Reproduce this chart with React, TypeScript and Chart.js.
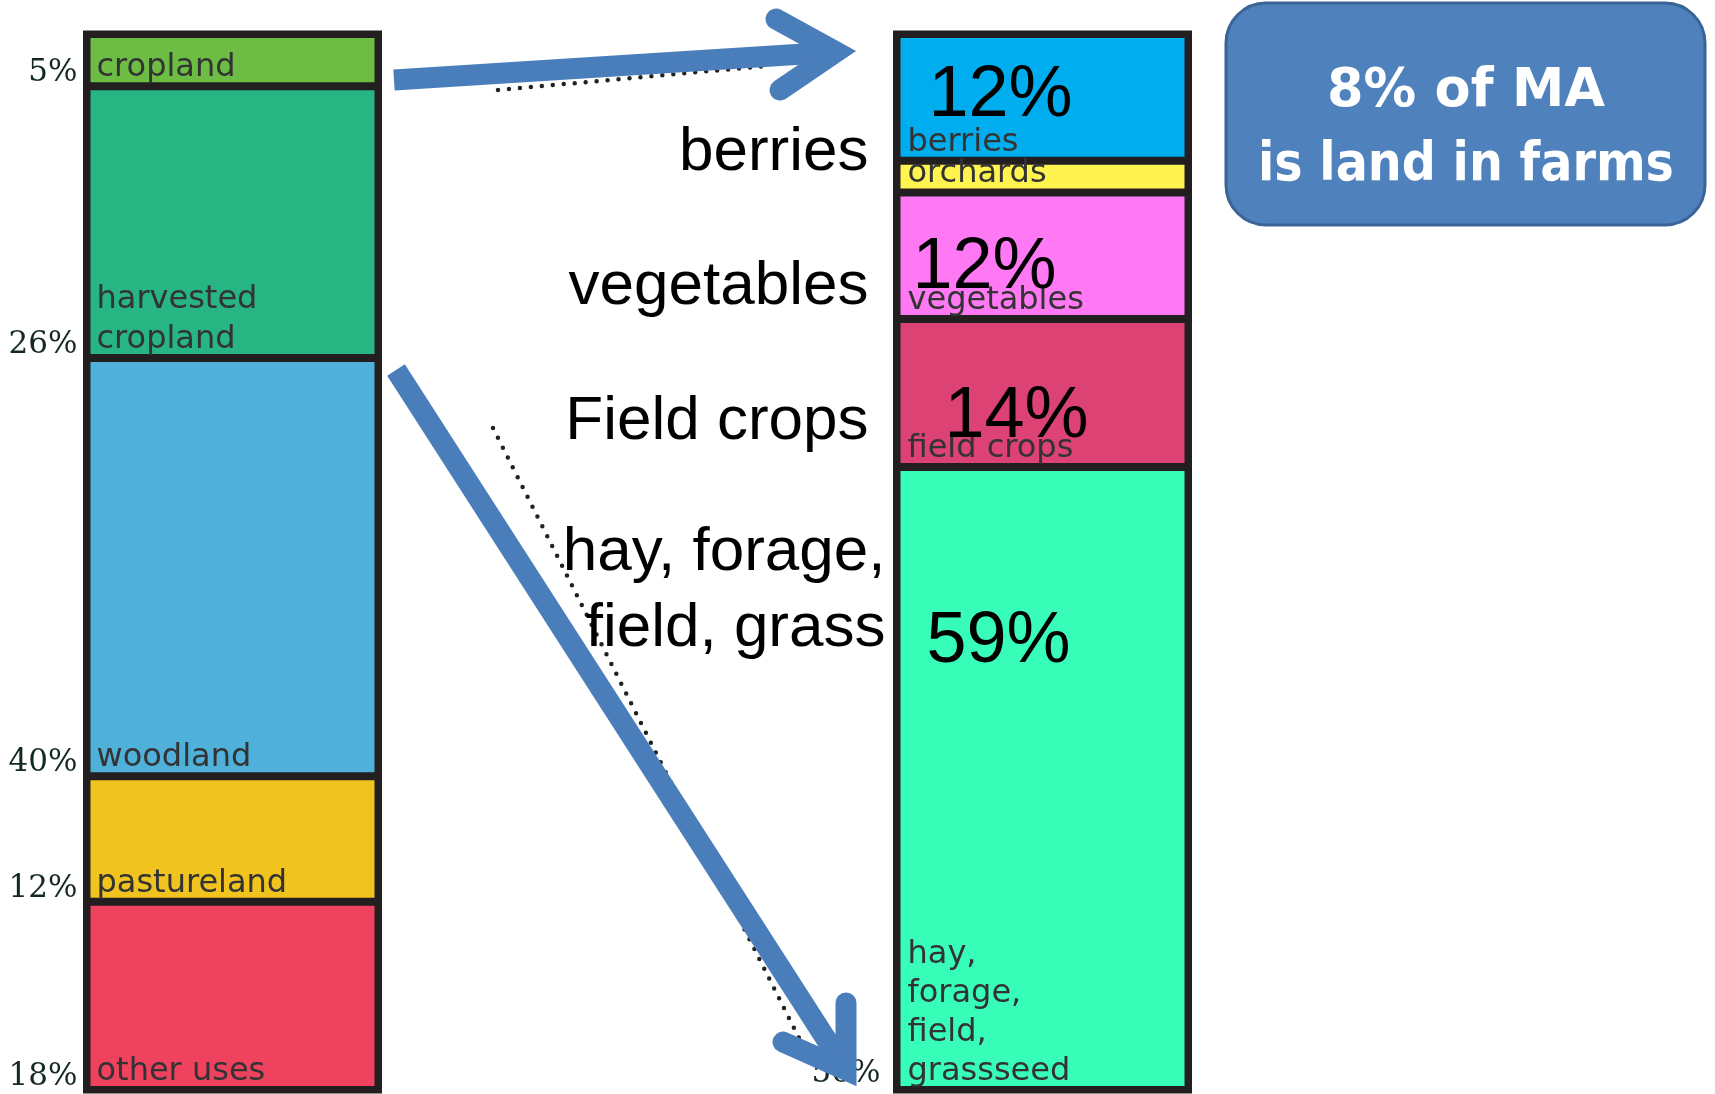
import React, { useEffect, useRef } from 'react';
import { Chart, registerables } from 'chart.js';

Chart.register(...registerables);

// ---------- data ----------
const barCategories = ['Land use', '', 'Land in farms'];

const landUseLabels = [['cropland'], ['harvested', 'cropland'], ['woodland'], ['pastureland'], ['other uses']];
const landUseShares = [5, 26, 40, 12, 18];
const landUseTickLabels = ['5%', '26%', '40%', '12%', '18%'];
const landUseColors = ['#6dbd45', '#27b584', '#4fb0da', '#f0c31e', '#ee425e'];

const farmLabels = [['berries'], ['orchards'], ['vegetables'], ['field crops'], ['hay,', 'forage,', 'field,', 'grassseed']];
const farmShares = [12, 3, 12, 14, 59];
const farmBigLabels = ['12%', '', '12%', '14%', '59%'];
const farmColors = ['#00aeef', '#fff44f', '#ff78f4', '#dc4274', '#38fdb9'];
const farmCallouts = [['berries'], [], ['vegetables'], ['Field crops'], ['hay, forage,', 'field, grass']];
const farmTickLabel = '56%';
const headline = ['8% of MA', 'is land in farms'];

// ---------- styles ----------
const BORDER = '#231f20';
const ARROW = '#4a7ebb';
const SEG_FONT = '32px "DejaVu Sans"';
const SEG_COLOR = '#333';
const TICK_FONT = '31px "DejaVu Serif"';
const TICK_COLOR = '#142a20';
const BIG_FONT = '72px "Liberation Sans"';
const CALLOUT_FONT = '62px "Liberation Sans"';
const HEAD_FONT = 'bold 54px "DejaVu Sans"';
const HEAD_WIDTHS = [278, 416];
// offsets for big % labels inside the right bar: [dx from left, baseline from top]
const bigLabelPos = [[32, 82], [0, 0], [16, 96], [48, 118], [30, 195]];
// callout baseline offsets from segment top
const calloutTop = [136, 0, 112, 120, 103];

function segBox(el: any) {
  const p = el.getProps(['x', 'y', 'base', 'width'], true);
  return {
    left: p.x - p.width / 2,
    right: p.x + p.width / 2,
    top: Math.min(p.y, p.base),
    bottom: Math.max(p.y, p.base),
  };
}

function union(boxes: any[]) {
  const l = Math.min(...boxes.map((b) => b.left));
  const r = Math.max(...boxes.map((b) => b.right));
  const t = Math.min(...boxes.map((b) => b.top));
  const bt = Math.max(...boxes.map((b) => b.bottom));
  return { l, r, t, bt };
}

function getBoxes(chart: any) {
  const nL = landUseShares.length;
  const lBoxes = landUseShares.map((_, i) => segBox(chart.getDatasetMeta(i).data[0]));
  const rBoxes = farmShares.map((_, i) => segBox(chart.getDatasetMeta(nL + i).data[2]));
  return { lBoxes, rBoxes };
}

function drawArrow(ctx: CanvasRenderingContext2D, s: number[], t: number[], a: number[], b: number[], w: number) {
  ctx.save();
  ctx.strokeStyle = ARROW;
  ctx.lineWidth = w;
  const dx = t[0] - s[0], dy = t[1] - s[1];
  const len = Math.hypot(dx, dy);
  ctx.lineCap = 'butt';
  ctx.beginPath();
  ctx.moveTo(s[0], s[1]);
  ctx.lineTo(t[0] - (dx / len) * w * 0.6, t[1] - (dy / len) * w * 0.6);
  ctx.stroke();
  ctx.lineCap = 'round';
  ctx.lineJoin = 'miter';
  ctx.miterLimit = 10;
  ctx.beginPath();
  ctx.moveTo(a[0], a[1]);
  ctx.lineTo(t[0], t[1]);
  ctx.lineTo(b[0], b[1]);
  ctx.stroke();
  ctx.restore();
}

function drawDots(ctx: CanvasRenderingContext2D, s: number[], e: number[]) {
  ctx.save();
  ctx.strokeStyle = '#222';
  ctx.lineWidth = 4.5;
  ctx.lineCap = 'round';
  ctx.setLineDash([0, 11]);
  ctx.beginPath();
  ctx.moveTo(s[0], s[1]);
  ctx.lineTo(e[0], e[1]);
  ctx.stroke();
  ctx.restore();
}

const decorPlugin = {
  id: 'decor',
  beforeDatasetsDraw(chart: any) {
    const ctx: CanvasRenderingContext2D = chart.ctx;
    const { lBoxes, rBoxes } = getBoxes(chart);
    ctx.save();
    ctx.fillStyle = BORDER;
    [lBoxes, rBoxes].forEach((bx) => {
      const u = union(bx);
      ctx.fillRect(u.l, u.t, u.r - u.l, u.bt - u.t);
    });
    ctx.restore();
  },
  afterDatasetsDraw(chart: any) {
    const ctx: CanvasRenderingContext2D = chart.ctx;
    const { lBoxes, rBoxes } = getBoxes(chart);

    ctx.save();
    ctx.strokeStyle = BORDER;
    ctx.lineWidth = 7;
    [lBoxes, rBoxes].forEach((bx) => {
      const u = union(bx);
      ctx.strokeRect(u.l, u.t, u.r - u.l, u.bt - u.t);
    });
    ctx.restore();

    ctx.save();
    ctx.textBaseline = 'alphabetic';
    // left bar segment labels & ticks
    lBoxes.forEach((b, i) => {
      ctx.font = SEG_FONT;
      ctx.fillStyle = SEG_COLOR;
      ctx.textAlign = 'left';
      const lines = landUseLabels[i];
      lines.forEach((ln, k) => {
        ctx.fillText(ln, b.left + 10, b.bottom - 10 - (lines.length - 1 - k) * 40);
      });
      ctx.font = TICK_FONT;
      ctx.fillStyle = TICK_COLOR;
      ctx.textAlign = 'right';
      ctx.fillText(landUseTickLabels[i], b.left - 9, b.bottom - 5);
    });

    // right bar segment labels
    rBoxes.forEach((b, i) => {
      ctx.font = SEG_FONT;
      ctx.fillStyle = SEG_COLOR;
      ctx.textAlign = 'left';
      const lines = farmLabels[i];
      lines.forEach((ln, k) => {
        ctx.fillText(ln, b.left + 11, b.bottom - 10 - (lines.length - 1 - k) * 39);
      });
      if (farmBigLabels[i]) {
        ctx.font = BIG_FONT;
        ctx.fillStyle = '#000';
        ctx.fillText(farmBigLabels[i], b.left + bigLabelPos[i][0], b.top + bigLabelPos[i][1]);
      }
    });

    // tick partly hidden under the arrow head
    const rLast = rBoxes[rBoxes.length - 1];
    ctx.font = TICK_FONT;
    ctx.fillStyle = TICK_COLOR;
    ctx.textAlign = 'right';
    ctx.fillText(farmTickLabel, rLast.left - 16, rLast.bottom - 8);

    // dotted guide lines
    drawDots(ctx, [498, 90], [766, 66]);
    drawDots(ctx, [493, 428], [800, 1040]);

    // arrows
    drawArrow(ctx, [394, 80], [836, 52], [776, 19], [780, 90], 21);
    drawArrow(ctx, [396, 370], [846, 1070], [846, 1003], [783, 1042], 21);

    // callouts
    ctx.font = CALLOUT_FONT;
    ctx.fillStyle = '#000';
    ctx.textAlign = 'right';
    rBoxes.forEach((b, i) => {
      const lines = farmCallouts[i];
      lines.forEach((ln, k) => {
        const xr = lines.length > 1 ? b.left - 11 : b.left - 28;
        ctx.fillText(ln, xr, b.top + calloutTop[i] + k * 76);
      });
    });

    // headline box
    ctx.beginPath();
    (ctx as any).roundRect(1226, 3, 479, 222, 40);
    ctx.fillStyle = '#4f81bd';
    ctx.fill();
    ctx.lineWidth = 3;
    ctx.strokeStyle = '#3a6496';
    ctx.stroke();
    ctx.font = HEAD_FONT;
    ctx.fillStyle = '#ffffff';
    ctx.textAlign = 'center';
    [106, 180].forEach((yb, k) => {
      const w = ctx.measureText(headline[k]).width;
      const sx = HEAD_WIDTHS[k] / w;
      ctx.save();
      ctx.translate(1466, yb);
      ctx.scale(sx, 1);
      ctx.fillText(headline[k], 0, 0);
      ctx.restore();
    });
    ctx.restore();
  },
};

export default function App() {
  const ref = useRef<HTMLCanvasElement | null>(null);
  useEffect(() => {
    if (!ref.current) return;
    const common = {
      borderColor: BORDER,
      borderWidth: 4,
      borderSkipped: false,
      barThickness: 292,
      inflateAmount: 0,
    };
    const datasets: any[] = [
      ...landUseShares.map((v, i) => ({
        label: landUseLabels[i].join(' '),
        data: [v, null, null],
        backgroundColor: landUseColors[i],
        yAxisID: 'y',
        ...common,
      })),
      ...farmShares.map((v, i) => ({
        label: farmLabels[i].join(' '),
        data: [null, null, v],
        backgroundColor: farmColors[i],
        yAxisID: 'y2',
        ...common,
      })),
    ];
    const chart = new Chart(ref.current, {
      type: 'bar',
      data: { labels: barCategories, datasets },
      options: {
        responsive: false,
        animation: false,
        devicePixelRatio: 1,
        skipNull: true,
        layout: { padding: { left: 30, right: 470, top: 34, bottom: 4 } },
        plugins: { legend: { display: false }, tooltip: { enabled: false } },
        scales: {
          x: { stacked: true, display: false, offset: true },
          y: {
            stacked: true, display: false, reverse: true, min: 0,
            max: landUseShares.reduce((a, b) => a + b, 0),
          },
          y2: {
            stacked: true, display: false, reverse: true, min: 0,
            max: farmShares.reduce((a, b) => a + b, 0),
          },
        },
      } as any,
      plugins: [decorPlugin],
    });
    return () => chart.destroy();
  }, []);
  return (
    <div style={{ position: 'fixed', left: 0, top: 0, width: 1715, height: 1094, background: '#fff' }}>
      <canvas ref={ref} width={1715} height={1094} />
    </div>
  );
}
